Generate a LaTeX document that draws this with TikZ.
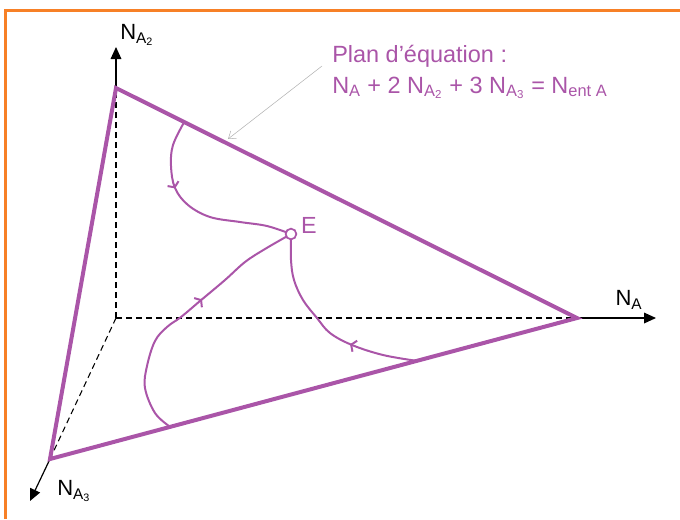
\documentclass[tikz,border=0pt]{standalone}
\usepackage{fontspec}
\setmainfont{Liberation Sans}
\usepackage{xcolor}
\usepackage{tikz}
\usetikzlibrary{arrows.meta,positioning,calc,decorations.markings}
\definecolor{mauve}{RGB}{170,85,168}
\definecolor{orangecadre}{RGB}{247,128,38}

\begin{document}
\begin{tikzpicture}[x=0.75pt,y=-0.75pt,
  every node/.style={font=\fontsize{16.5}{19}\selectfont},
  axe/.style={-{Triangle[length=9pt,width=8pt]},line width=0.9pt},
  cache/.style={line width=0.8pt,dash pattern=on 4.5pt off 3pt},
  plan/.style={mauve,line width=3pt,line join=miter},
  traj/.style={mauve,line width=1.5pt,postaction={decorate}},
  fl/.style={decoration={markings,mark=at position #1 with
    {\arrow{Straight Barb[length=3pt,width=9pt]}}}},
  pt/.style={circle,draw=mauve,fill=white,line width=1.3pt,
    minimum size=8pt,inner sep=0pt}]
\useasboundingbox (0,0) rectangle (680,519);
\draw[orangecadre,line width=2.3pt] (5.5,519) |- (680,10.5);
% sommets et axes
\coordinate (O) at (116,318);
\coordinate (V1) at (577,318);
\coordinate (V2) at (116,88);
\coordinate (V3) at (50,459);
\coordinate (T1) at (656,318);
\coordinate (T2) at (116,47);
\coordinate (T3) at (30,501);
\draw[cache] (O) -- (V1);
\draw[cache] (O) -- (V2);
\draw[cache] (O) -- (V3);
\draw[axe] (V1) -- (T1);
\draw[axe] (V2) -- (T2);
\draw[axe] (V3) -- (T3);
\node (lA) at (629,300) {N\textsubscript{A}};
\node (lA2) at (137,35) {N\textsubscript{A\textsubscript{2}}};
\node (lA3) at (74,491) {N\textsubscript{A\textsubscript{3}}};
% plan
\draw[plan] (V1) -- (V2) -- (V3) -- cycle;
% trajectoires vers E
\coordinate (cE) at (291,234);
\coordinate (d1) at ($(V2)!0.148!(V1)$);
\coordinate (d2) at ($(V3)!0.228!(V1)$);
\coordinate (d3) at ($(V3)!0.696!(V1)$);
\draw[traj,fl=0.35] plot[smooth,tension=0.6] coordinates
  {(d1) (173,145) (171,166) (175,188) (188,205) (210,217) (240,222) (267,226) (cE)};
\draw[traj,fl=0.59] plot[smooth,tension=0.6] coordinates
  {(d2) (155,413) (145,388) (147,366) (155,341) (167,327) (181,317) (200,301)
   (225,280) (245,262) (265,249) (cE)};
\draw[traj,fl=0.34] plot[smooth,tension=0.6] coordinates
  {(d3) (383,355) (352,345) (330,333) (317,318) (303,300) (294,280) (291,260) (cE)};
\node[pt] (E) at (cE) {};
\node[mauve,font=\fontsize{17.5}{20}\selectfont] (lE) at (309,225) {E};
% equation du plan
\node[mauve,anchor=base west,inner sep=0pt,font=\fontsize{17.6}{20}\selectfont]
  (titre) at (332,62) {Plan d’équation :};
\node[mauve,anchor=base west,inner sep=0pt,font=\fontsize{17.6}{20}\selectfont]
  (equa) at (332,93) {N\textsubscript{A} + 2 N\textsubscript{A\textsubscript{2}}
  + 3 N\textsubscript{A\textsubscript{3}} = N\textsubscript{ent A}};
\coordinate (p0) at (322,66);
\coordinate (p1) at (228,139);
\draw[gray!60,line width=0.4pt,-{Straight Barb[length=5pt,width=7pt]}] (p0) -- (p1);
\end{tikzpicture}
\end{document}
